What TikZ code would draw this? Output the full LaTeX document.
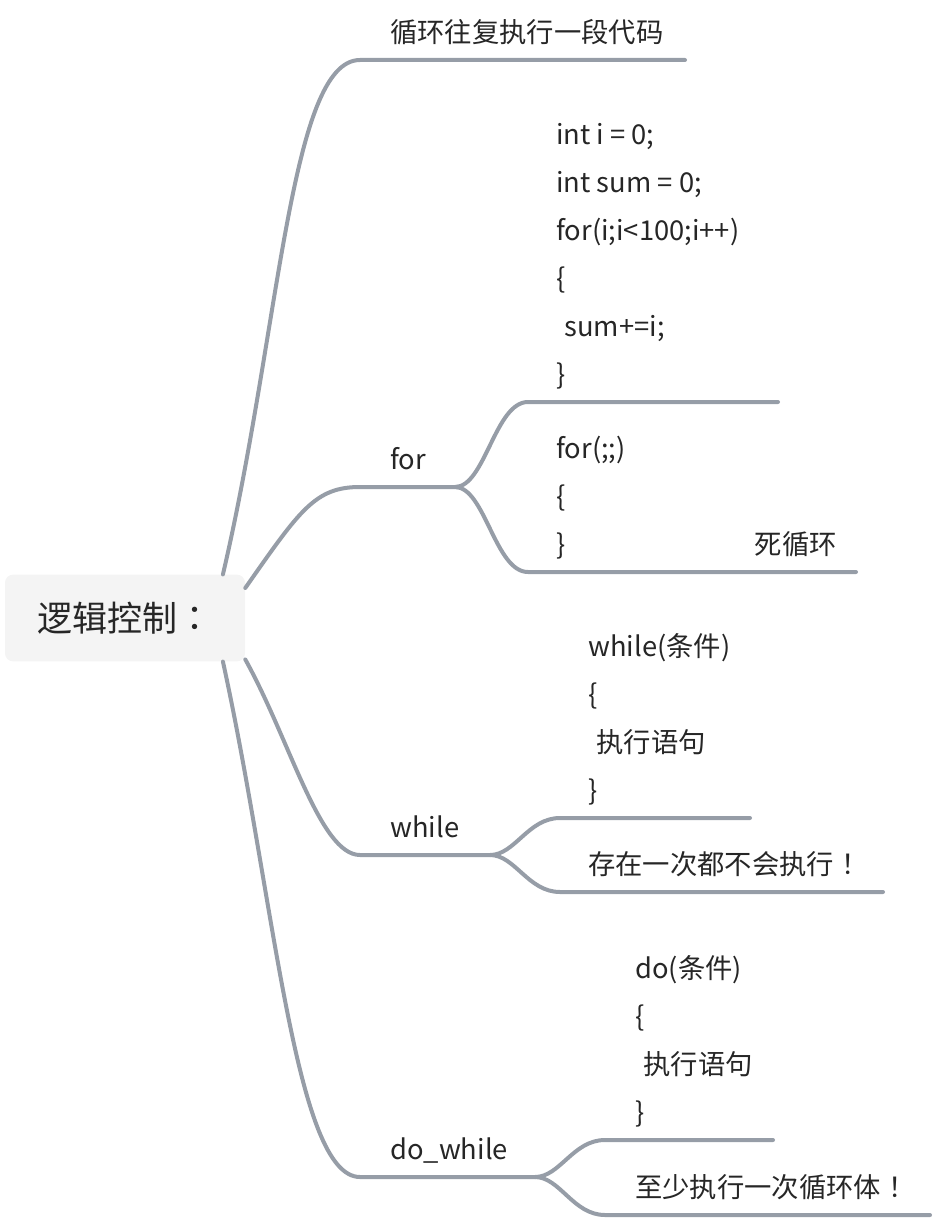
\documentclass[tikz,border=0pt]{standalone}
\usepackage{fontspec}
\setmainfont{Noto Sans CJK SC}
\newfontfamily\cjktc{Noto Sans CJK TC}
\usepackage{xcolor}
\usepackage{tikz}
\usetikzlibrary{positioning}
\definecolor{branchgray}{RGB}{150,157,167}
\definecolor{rootfill}{RGB}{244,244,244}
\definecolor{inkgray}{RGB}{38,38,38}

\begin{document}
\begin{tikzpicture}[
    x=0.75pt, y=-0.75pt,
    rootbox/.style={rectangle, fill=rootfill, rounded corners=6pt, minimum width=180pt, minimum height=65pt, text=inkgray, font=\fontsize{26.25}{30}\selectfont},
    topic/.style={anchor=south west, inner sep=0pt, text depth=0pt, yshift=13pt, align=left, text=inkgray, font=\fontsize{20.5}{36}\selectfont},
    branch/.style={draw=branchgray, line width=3pt, line cap=round}
]
    \useasboundingbox (0,0) rectangle (934,1220);

    % Central topic
    \node [rootbox] (root) at (125,618) {逻辑控制{\cjktc ：}};

    % Underline end points
    \coordinate (intro-a) at (360,60);      \coordinate (intro-b) at (685,60);
    \coordinate (for-a) at (360,487);       \coordinate (for-b) at (455,487);
    \coordinate (forcode-a) at (528,402);   \coordinate (forcode-b) at (778,402);
    \coordinate (forever-a) at (528,572);   \coordinate (forever-b) at (856,572);
    \coordinate (while-a) at (360,855);     \coordinate (while-b) at (490,855);
    \coordinate (whilecode-a) at (560,818); \coordinate (whilecode-b) at (750,818);
    \coordinate (whilenote-a) at (560,892); \coordinate (whilenote-b) at (883,892);
    \coordinate (dowhile-a) at (360,1177);  \coordinate (dowhile-b) at (535,1177);
    \coordinate (docode-a) at (605,1140);   \coordinate (docode-b) at (773,1140);
    \coordinate (donote-a) at (605,1215);   \coordinate (donote-b) at (930,1215);

    % Topics
    \node [topic] (intro) at (390,60) {循环往复执行一段代码};
    \node [topic] (for) at (390,487) {for};
    \node [topic] (forcode) at (556,402) {int i = 0;\\int sum = 0;\\for(i;i<100;i++)\\\{\\\hspace*{0.3em}sum+=i;\\\}};
    \node [topic] (forever) at (556,572) {for(;;)\\\{\\\makebox[149pt][l]{\}}死循环};
    \node [topic] (while) at (390,855) {while};
    \node [topic] (whilecode) at (588,818) {while(条件)\\\{\\\hspace*{0.3em}执行语句\\\}};
    \node [topic] (whilenote) at (588,892) {存在一次都不会执行{\cjktc ！}};
    \node [topic] (dowhile) at (390,1177) {do\_while};
    \node [topic] (docode) at (635,1140) {do(条件)\\\{\\\hspace*{0.3em}执行语句\\\}};
    \node [topic] (donote) at (635,1215) {至少执行一次循环体{\cjktc ！}};

    % Branches
    \draw [branch] (root.24) .. controls (280,330) and (290,60) .. (intro-a) -- (intro-b);
    \draw [branch] (root.14) .. controls (300,510) and (315,487) .. (for-a) -- (for-b);
    \draw [branch] (for-b) .. controls (485,487) and (495,402) .. (forcode-a) -- (forcode-b);
    \draw [branch] (for-b) .. controls (485,487) and (495,572) .. (forever-a) -- (forever-b);
    \draw [branch] (root.-19) .. controls (290,740) and (320,855) .. (while-a) -- (while-b);
    \draw [branch] (while-b) .. controls (515,855) and (528,818) .. (whilecode-a) -- (whilecode-b);
    \draw [branch] (while-b) .. controls (515,855) and (528,892) .. (whilenote-a) -- (whilenote-b);
    \draw [branch] (root.-24) .. controls (275,900) and (295,1177) .. (dowhile-a) -- (dowhile-b);
    \draw [branch] (dowhile-b) .. controls (560,1177) and (573,1140) .. (docode-a) -- (docode-b);
    \draw [branch] (dowhile-b) .. controls (560,1177) and (573,1215) .. (donote-a) -- (donote-b);

\end{tikzpicture}
\end{document}
